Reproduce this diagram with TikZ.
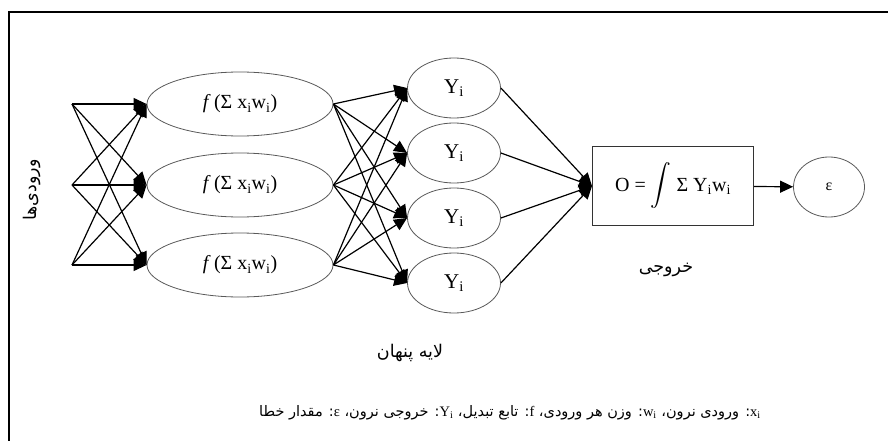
\documentclass[tikz,border=0pt]{standalone}
\usepackage{exscale}
\usepackage{fontspec}
\setmainfont{Liberation Serif}
\newfontfamily\fafont[Script=Arabic]{DejaVu Sans}
\TeXXeTstate=1
\usetikzlibrary{arrows.meta, shapes.geometric}
\newcommand{\sumxw}{\textit{f}\,(Σ x\textsubscript{i}w\textsubscript{i})}

\begin{document}
\begin{tikzpicture}[x=1pt, y=-1pt,
  hidden/.style={ellipse, draw=black!65, line width=0.8pt, minimum width=186pt,
                 minimum height=64pt, inner sep=0pt, font=\fontsize{20}{24}\selectfont},
  outn/.style={ellipse, draw=black!65, line width=0.8pt, minimum width=93pt,
               minimum height=60pt, inner sep=0pt, font=\fontsize{21}{25}\selectfont},
  sumbox/.style={rectangle, draw=black!80, line width=1pt, minimum width=161pt,
                 minimum height=79pt, inner sep=0pt, font=\fontsize{20}{24}\selectfont},
  fatext/.style={font=\fafont\fontsize{17.5}{21}\selectfont, inner sep=0pt},
  arrow/.style={-{Triangle[length=13pt,width=12pt]}, line width=1.2pt}]

  \useasboundingbox (0,0) rectangle (888,441);
  \draw[line width=2pt] (9,441) -- (9,12) -- (888,12);

  % inputs
  \coordinate (in1) at (72,104);
  \coordinate (in2) at (72,185);
  \coordinate (in3) at (72,265);
  \node[fatext, rotate=90] (inlab) at (32,190) {\beginR ورودی‌ها\endR};

  % hidden layer
  \node[hidden] (h1) at (240,104) {\sumxw};
  \node[hidden] (h2) at (240,185) {\sumxw};
  \node[hidden] (h3) at (240,265) {\sumxw};
  \node[fatext] (hlab) at (410,353) {\beginR لایه پنهان\endR};

  % output neurons
  \node[outn] (y1) at (454,88) {Y\textsubscript{i}};
  \node[outn] (y2) at (454,153) {Y\textsubscript{i}};
  \node[outn] (y3) at (454,218) {Y\textsubscript{i}};
  \node[outn] (y4) at (454,283) {Y\textsubscript{i}};

  \node[sumbox] (out) at (673,186) {O = $\displaystyle\int$ Σ Y\textsubscript{i}w\textsubscript{i}};
  \node[fatext] (olab) at (666,270) {\beginR خروجی\endR};
  \node[ellipse, draw=black!65, line width=0.8pt, minimum width=71pt, minimum height=60pt,
        inner sep=0pt, font=\fontsize{16}{19}\selectfont] (err) at (829,187) {ε};

  \node[fatext, font=\fafont\fontsize{14.5}{17}\selectfont] (legend) at (510,413) {\beginR\beginL{\rmfamily x\textsubscript{i}}\endL: ورودی نرون، \beginL{\rmfamily w\textsubscript{i}}\endL: وزن هر ورودی، \beginL{\rmfamily f}\endL: تابع تبدیل، \beginL{\rmfamily Y\textsubscript{i}}\endL: خروجی نرون، \beginL{\rmfamily ε}\endL: مقدار خطا\endR};

  \draw[arrow] (in1) -- (h1.west);
  \draw[arrow] (in1) -- (h2.west);
  \draw[arrow] (in1) -- (h3.west);
  \draw[arrow] (in2) -- (h1.west);
  \draw[arrow] (in2) -- (h2.west);
  \draw[arrow] (in2) -- (h3.west);
  \draw[arrow] (in3) -- (h1.west);
  \draw[arrow] (in3) -- (h2.west);
  \draw[arrow] (in3) -- (h3.west);

  \draw[arrow] (h1.east) -- (y1.west);
  \draw[arrow] (h1.east) -- (y2.west);
  \draw[arrow] (h1.east) -- (y3.west);
  \draw[arrow] (h1.east) -- (y4.west);
  \draw[arrow] (h2.east) -- (y1.west);
  \draw[arrow] (h2.east) -- (y2.west);
  \draw[arrow] (h2.east) -- (y3.west);
  \draw[arrow] (h2.east) -- (y4.west);
  \draw[arrow] (h3.east) -- (y1.west);
  \draw[arrow] (h3.east) -- (y2.west);
  \draw[arrow] (h3.east) -- (y3.west);
  \draw[arrow] (h3.east) -- (y4.west);

  \draw[arrow] (y1.east) -- (out.west);
  \draw[arrow] (y2.east) -- (out.west);
  \draw[arrow] (y3.east) -- (out.west);
  \draw[arrow] (y4.east) -- (out.west);

  \draw[arrow] (out) -- (err);
\end{tikzpicture}
\end{document}
